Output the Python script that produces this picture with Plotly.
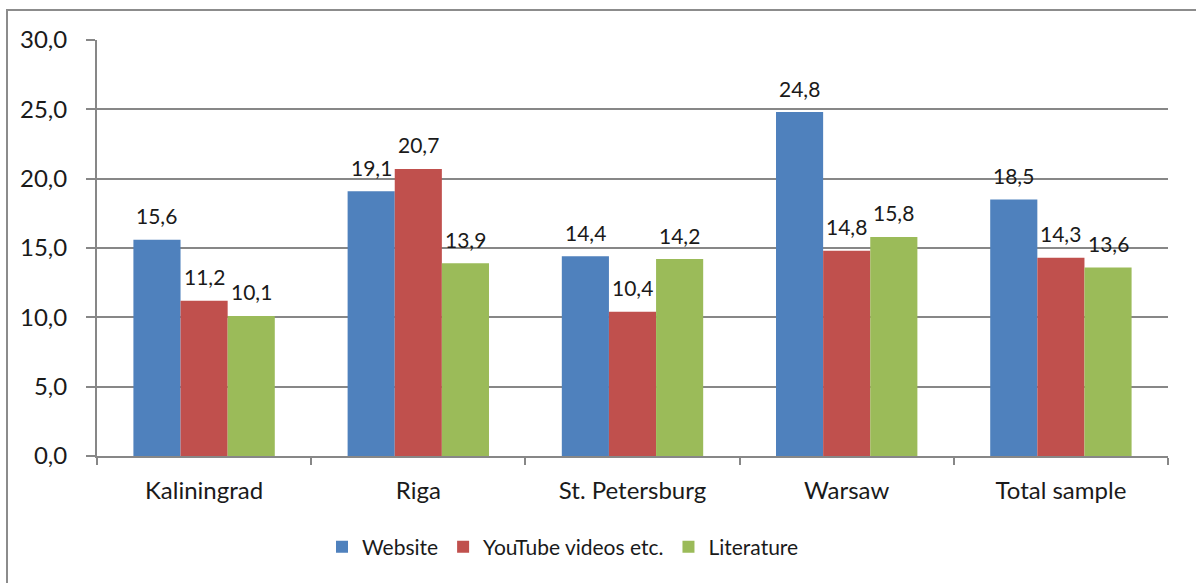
import plotly.graph_objects as go

categories = ["Kaliningrad", "Riga", "St. Petersburg", "Warsaw", "Total sample"]
series_names = ["Website", "YouTube videos etc.", "Literature"]
website = [15.6, 19.1, 14.4, 24.8, 18.5]
youtube = [11.2, 20.7, 10.4, 14.8, 14.3]
literature = [10.1, 13.9, 14.2, 15.8, 13.6]
colors = ["#4F81BD", "#C0504D", "#9BBB59"]
y_ticks = [0, 5, 10, 15, 20, 25, 30]

W, H = 1196, 583
X_LEFT, X_RIGHT, Y_TOP, Y_BOT = 97, 1168, 40, 456
L, T = X_LEFT, Y_TOP
R = W - X_RIGHT
B = H - Y_BOT
pw, ph = W - L - R, H - T - B

FONT = "Lato"
TXT = "#1a1a1a"
GRID = "#878787"

fig = go.Figure()
all_series = [website, youtube, literature]
for name, vals, col in zip(series_names, all_series, colors):
    fig.add_trace(go.Bar(
        x=categories, y=vals, name=name,
        marker=dict(color=col, line=dict(width=0)),
        hoverinfo="skip",
    ))

# data labels as annotations above each bar
bar_w = pw / len(categories) * (1 - 0.34) / 3
for i, vals in enumerate(all_series):
    for c, v in zip(categories, vals):
        fig.add_annotation(
            x=c, y=v, xref="x", yref="y",
            text=f"{v:.1f}".replace(".", ","),
            showarrow=False, xshift=(i - 1) * bar_w, yshift=24,
            font=dict(family=FONT, size=21, color=TXT),
        )

fig.update_layout(
    width=W, height=H,
    margin=dict(l=L, r=R, t=T, b=B, autoexpand=False),
    paper_bgcolor="white", plot_bgcolor="white",
    separators=", ",
    barmode="group", bargap=0.34, bargroupgap=0,
    font=dict(family=FONT, size=24, color=TXT),
    showlegend=True,
    legend=dict(
        orientation="h", x=(563 - X_LEFT) / pw, xanchor="center",
        y=(Y_BOT - 547) / ph, yanchor="middle",
        font=dict(family=FONT, size=21, color=TXT),
        itemsizing="constant", traceorder="normal",
    ),
    xaxis=dict(
        showline=True, linecolor=GRID, linewidth=2,
        ticks="outside", tickson="boundaries", ticklen=7, tickwidth=2, tickcolor=GRID,
        showgrid=False, ticklabelstandoff=12,
        tickfont=dict(family=FONT, size=24, color=TXT),
    ),
    yaxis=dict(
        range=[0, 30], tickvals=y_ticks, tickformat=".1f",
        showline=True, linecolor=GRID, linewidth=2,
        ticks="outside", ticklen=9, tickwidth=2, tickcolor=GRID,
        showgrid=True, gridcolor=GRID, gridwidth=2,
        zeroline=False, ticklabelstandoff=14,
        tickfont=dict(family=FONT, size=24, color=TXT),
    ),
    shapes=[dict(
        type="rect", xref="paper", yref="paper",
        x0=(7 - X_LEFT) / pw, x1=(1215 - X_LEFT) / pw,
        y0=(Y_BOT - 600) / ph, y1=(Y_BOT - 10) / ph,
        line=dict(color="#8c8c8c", width=2), fillcolor="rgba(0,0,0,0)",
        layer="below",
    )],
)

fig.write_html(
    "out.html",
    config={"displayModeBar": False, "staticPlot": True},
    post_script="document.body.style.margin='0px';document.body.style.overflow='hidden';",
)
